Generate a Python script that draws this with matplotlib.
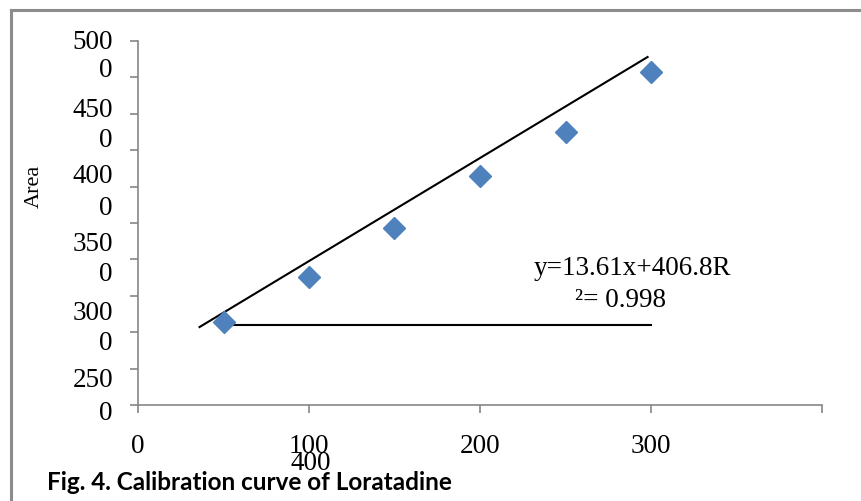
import matplotlib
matplotlib.use("Agg")
import matplotlib.pyplot as plt
from matplotlib.lines import Line2D

# data
conc = [50, 100, 150, 200, 250, 300]
area = [1140, 1758, 2431, 3146, 3750, 4574]
trend_x = [36, 298]
trend_y = [1071, 4780]
hline_x = [50, 300]
hline_y = [1099, 1099]
xticks = [0, 100, 200, 300, 400]
xticklabels = ["0", "100", "200", "300", ""]
yticks = [0, 500, 1000, 1500, 2000, 2500, 3000, 3500, 4000, 4500, 5000]
ylabel_top = ["500", "450", "400", "350", "300", "250"]
ylabel_top_pos = [4973, 4052, 3132, 2198, 1250, 330]
ylabel_bottom = ["0", "0", "0", "0", "0", "0"]
ylabel_bottom_pos = [4588, 3640, 2706, 1786, 838, -110]

serif = "Liberation Serif"
fs = 19.5
fig = plt.figure(figsize=(8.62, 5.01), dpi=100)
ax = fig.add_axes([138/862, 1-405/501, 684/862, 364/501])

ax.plot(trend_x, trend_y, color="black", lw=1.5, zorder=2)
ax.plot(hline_x, hline_y, color="black", lw=1.5, zorder=2)
ax.plot(conc, area, linestyle="none", marker="D", markersize=11,
        color="#4F81BD", markeredgecolor="#4F81BD", zorder=3)

ax.set_xlim(0, 400)
ax.set_ylim(0, 5000)
for s in ["top", "right"]:
    ax.spines[s].set_visible(False)
for s in ["left", "bottom"]:
    ax.spines[s].set_color("#868686")
    ax.spines[s].set_linewidth(1.2)
ax.set_xticks(xticks)
ax.set_xticklabels(xticklabels, fontfamily=serif, fontsize=fs)
ax.set_yticks(yticks)
ax.set_yticklabels([])
ax.tick_params(axis="both", direction="out", length=6, width=1.2, color="#868686")
ax.tick_params(axis="x", pad=15)

ytrans = ax.get_yaxis_transform()
for t, p in zip(ylabel_top, ylabel_top_pos):
    ax.text(-25/684, p, t, transform=ytrans, ha="right", va="center",
            fontfamily=serif, fontsize=fs, clip_on=False)
for t, p in zip(ylabel_bottom, ylabel_bottom_pos):
    ax.text(-25/684, p, t, transform=ytrans, ha="right", va="center",
            fontfamily=serif, fontsize=fs, clip_on=False)

ax.text(101, -797, "400", ha="center", va="center", fontfamily=serif, fontsize=fs,
        clip_on=False)

ax.text(289, 1881, "y=13.61x+406.8R", ha="center", va="center", fontfamily=serif, fontsize=fs)
ax.text(282, 1442, "\u00b2= 0.998", ha="center", va="center", fontfamily=serif, fontsize=fs)

fig.text(34/862, 1-186/501, "Area", rotation=90, ha="center", va="center",
         fontfamily=serif, fontsize=16)
fig.text(47/862, 1-483/501, "Fig. 4. Calibration curve of Loratadine", ha="left", va="center",
         fontfamily="Lato", fontweight="bold", fontsize=17.5)

# border box (partly outside the picture)
fig.add_artist(Line2D([11/862, 1.0], [1-10/501, 1-10/501], transform=fig.transFigure,
                      color="#8c8c8c", lw=2.2))
fig.add_artist(Line2D([11/862, 11/862], [0, 1-10/501], transform=fig.transFigure,
                      color="#8c8c8c", lw=2.2))

fig.savefig("out.png", dpi=100)
